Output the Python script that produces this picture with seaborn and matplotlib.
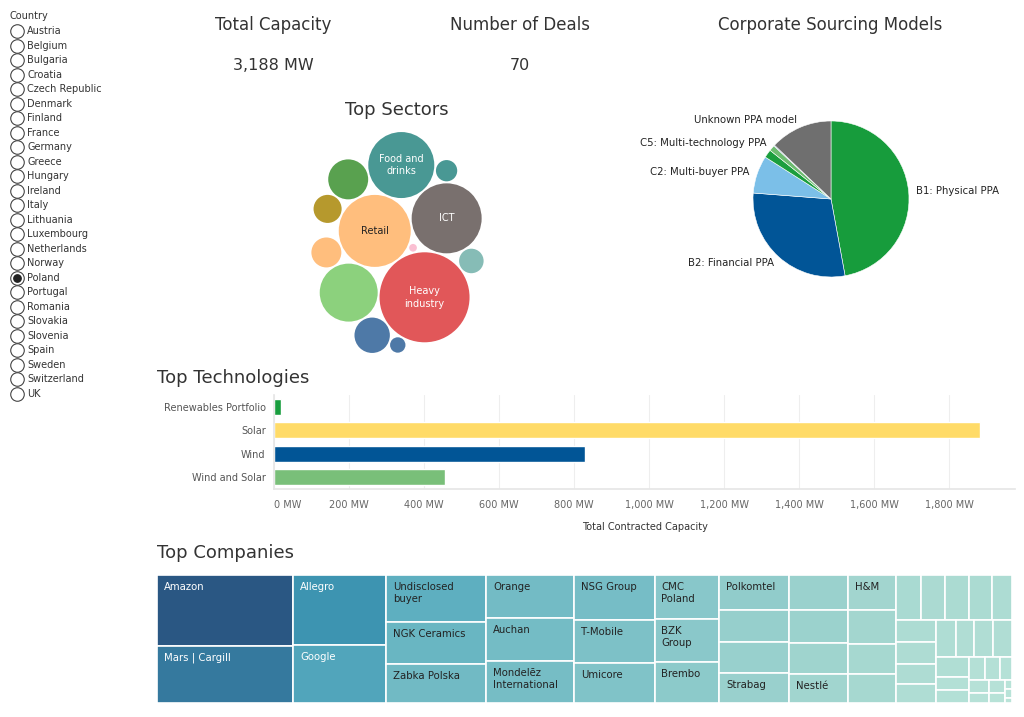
import numpy as np
import pandas as pd
import matplotlib
matplotlib.use("Agg")
import matplotlib.pyplot as plt
import seaborn as sns
from matplotlib.patches import Circle, Rectangle
from matplotlib.colors import LinearSegmentedColormap, Normalize, to_rgb

# ---- data ----
countries = ["Austria", "Belgium", "Bulgaria", "Croatia", "Czech Republic", "Denmark",
             "Finland", "France", "Germany", "Greece", "Hungary", "Ireland", "Italy",
             "Lithuania", "Luxembourg", "Netherlands", "Norway", "Poland", "Portugal",
             "Romania", "Slovakia", "Slovenia", "Spain", "Sweden", "Switzerland", "UK"]
selected_country = "Poland"

total_capacity_mw = 3188
number_of_deals = 70

sector_labels = ["Heavy\nindustry", "Retail", "ICT", "Food and\ndrinks", "", "", "", "", "", "", "", "", ""]
sector_values = [822, 526, 497, 442, 341, 162, 127, 91, 80, 61, 46, 24, 6]
sector_palette = ["#e15759", "#ffbe7d", "#79706e", "#499894", "#8cd17d", "#59a14f", "#4e79a7",
                  "#ffbe7d", "#b6992d", "#86bcb6", "#499894", "#4e79a7", "#fabfd2"]

model_labels = ["B1: Physical PPA", "B2: Financial PPA", "C2: Multi-buyer PPA", "",
                "C5: Multi-technology PPA", "", "Unknown PPA model"]
model_values = [1502, 928, 249, 54, 38, 6, 411]
model_palette = ["#179c3c", "#015597", "#7bbfe8", "#1b9e3e", "#6dbc70", "#4f81bd", "#6f6f6f"]

technologies = ["Renewables Portfolio", "Solar", "Wind", "Wind and Solar"]
technology_mw = [19, 1883, 829, 456]
technology_palette = ["#189d3e", "#ffdb68", "#015596", "#79bf79"]
capacity_ticks = [0, 200, 400, 600, 800, 1000, 1200, 1400, 1600, 1800]

company_labels = ["Amazon", "Mars | Cargill", "Allegro", "Google", "Undisclosed\nbuyer",
                  "NGK Ceramics", "Zabka Polska", "Orange", "Auchan", "Mondelēz\nInternational",
                  "NSG Group", "T-Mobile", "Umicore", "CMC\nPoland", "BZK\nGroup", "Brembo",
                  "Polkomtel", "", "", "Strabag", "", "", "", "Nestlé", "H&M", "", "", "",
                  "", "", "", "", "", "", "", "", "", "", "", "", "", "", "", "", "", "",
                  "", "", "", "", "", "", "", ""]
company_mw = [279, 224, 188, 155, 136, 121, 112, 110, 108, 106, 105, 98, 93, 82, 80, 77,
              70, 64, 62, 60, 59, 57, 52, 50, 48, 47, 41, 40,
              33, 31, 30, 30, 26, 26, 25, 24, 22, 21, 20, 20, 20, 19, 13, 12,
              11, 10.5, 8, 7, 5.8, 5.8, 4.9, 1.7, 1.7, 1.0]

W, H = 1024, 717
sns.set_theme(style="white")
plt.rcParams["font.family"] = ["DejaVu Sans"]
TXT = "#333333"

fig = plt.figure(figsize=(W / 100, H / 100), dpi=100)


def px_axes(x0, y0, x1, y1):
    return fig.add_axes([x0 / W, 1 - y1 / H, (x1 - x0) / W, (y1 - y0) / H])


# ---- country radio list ----
ax_r = px_axes(0, 1.96, 150, 415.8)
ax_r.set_xlim(0, 150)
ax_r.set_ylim(26.5, -2)
ax_r.axis("off")
idx = np.arange(len(countries))
ax_r.scatter(np.full(len(countries), 17), idx, s=95, facecolor="white",
             edgecolor="#444444", linewidth=0.8, zorder=2)
sel = countries.index(selected_country)
ax_r.scatter([17], [sel], s=28, color="#222222", zorder=3)
ax_r.text(10, -1, "Country", fontsize=7, color=TXT, va="center")
for i, c in enumerate(countries):
    ax_r.text(27, i, c, fontsize=7, color=TXT, va="center")

# ---- KPI headers ----
fig.text(273 / W, 1 - 25 / H, "Total Capacity", ha="center", va="center", fontsize=12, color=TXT)
fig.text(273 / W, 1 - 65 / H, f"{total_capacity_mw:,} MW", ha="center", va="center", fontsize=11.5, color=TXT)
fig.text(520 / W, 1 - 25 / H, "Number of Deals", ha="center", va="center", fontsize=12, color=TXT)
fig.text(520 / W, 1 - 65 / H, f"{number_of_deals}", ha="center", va="center", fontsize=11.5, color=TXT)
fig.text(830 / W, 1 - 25 / H, "Corporate Sourcing Models", ha="center", va="center", fontsize=12, color=TXT)
fig.text(397 / W, 1 - 110 / H, "Top Sectors", ha="center", va="center", fontsize=13, color=TXT)
fig.text(157 / W, 1 - 378 / H, "Top Technologies", ha="left", va="center", fontsize=13, color=TXT)
fig.text(157 / W, 1 - 553 / H, "Top Companies", ha="left", va="center", fontsize=13, color=TXT)


# ---- packed bubbles ----
def tangent_points(a, b, r, gap):
    (xa, ya, ra), (xb, yb, rb) = a, b
    da, db = ra + r + gap, rb + r + gap
    d = np.hypot(xb - xa, yb - ya)
    if d > da + db or d < abs(da - db) or d == 0:
        return []
    l = (da ** 2 - db ** 2 + d ** 2) / (2 * d)
    h = np.sqrt(max(da ** 2 - l ** 2, 0))
    mx, my = xa + l * (xb - xa) / d, ya + l * (yb - ya) / d
    return [(mx + h * (yb - ya) / d, my - h * (xb - xa) / d),
            (mx - h * (yb - ya) / d, my + h * (xb - xa) / d)]


def pack_circles(radii, gap, squeeze=1.3):
    order = np.argsort(radii)[::-1]
    placed, pos = [], np.zeros((len(radii), 2))
    for k in order:
        r = radii[k]
        if not placed:
            c = (0.0, 0.0)
        elif len(placed) == 1:
            x0, y0, r0 = placed[0]
            c = (x0 - (r0 + r + gap) * 0.6, y0 + (r0 + r + gap) * 0.8)
        else:
            arr = np.array(placed)
            w = arr[:, 2] ** 2
            gx, gy = (arr[:, 0] * w).sum() / w.sum(), (arr[:, 1] * w).sum() / w.sum()
            best = None
            for i in range(len(placed)):
                for j in range(i + 1, len(placed)):
                    for p in tangent_points(placed[i], placed[j], r, gap):
                        ok = all(np.hypot(p[0] - q[0], p[1] - q[1]) >= q[2] + r + gap - 1e-6 for q in placed)
                        if ok:
                            dd = np.hypot((p[0] - gx) * squeeze, p[1] - gy)
                            if best is None or dd < best[0]:
                                best = (dd, p)
            c = best[1]
        placed.append((c[0], c[1], r))
        pos[k] = c
    return pos


radii = np.sqrt(np.array(sector_values, float))
k_px = 45 / radii.max()
centres = pack_circles(radii, 2 / k_px)
ax_b = px_axes(290, 125, 505, 360)
ax_b.axis("off")
xmin, xmax = (centres[:, 0] - radii).min(), (centres[:, 0] + radii).max()
ymin, ymax = (centres[:, 1] - radii).min(), (centres[:, 1] + radii).max()
cx, cy = (xmin + xmax) / 2, (ymin + ymax) / 2
ax_b.set_xlim(cx - 215 / 2 / k_px, cx + 215 / 2 / k_px)
ax_b.set_ylim(cy - 235 / 2 / k_px, cy + 235 / 2 / k_px)
for (x, y), r, lab, col in zip(centres, radii, sector_labels, sector_palette):
    ax_b.add_patch(Circle((x, y), r, facecolor=col, edgecolor="none"))
    if lab:
        lum = np.dot(to_rgb(col), [0.299, 0.587, 0.114])
        ax_b.text(x, y, lab, ha="center", va="center", fontsize=7, linespacing=1.3,
                  color="#222222" if lum > 0.6 else "white")

# ---- pie ----
ax_p = px_axes(733.5, 101.5, 928.5, 296.5)
ax_p.pie(model_values, labels=model_labels, colors=model_palette, startangle=90,
         counterclock=False, labeldistance=1.1,
         wedgeprops=dict(linewidth=0.4, edgecolor="white"),
         textprops=dict(fontsize=7.3, color="#222222"))

# ---- bar chart ----
ax_t = px_axes(274, 395.3, 1015, 488.7)
tech_df = pd.DataFrame({"tech": technologies, "mw": technology_mw})
sns.barplot(data=tech_df, x="mw", y="tech", hue="tech", palette=technology_palette,
            legend=False, width=0.7, ax=ax_t, saturation=1)
ax_t.set_xlim(0, 1976)
ax_t.set_xticks(capacity_ticks)
ax_t.set_xticklabels([f"{v:,} MW" for v in capacity_ticks], fontsize=7, color="#666666")
ax_t.get_xticklabels()[0].set_horizontalalignment("left")
ax_t.tick_params(axis="y", labelsize=7, labelcolor="#555555", length=0, pad=6)
ax_t.tick_params(axis="x", length=0, pad=8)
ax_t.set_ylabel("")
ax_t.set_xlabel("Total Contracted Capacity", fontsize=7, color=TXT, labelpad=9)
ax_t.grid(axis="x", color="#eeeeee", linewidth=0.8)
ax_t.set_axisbelow(True)
for s in ["top", "right"]:
    ax_t.spines[s].set_visible(False)
ax_t.spines["left"].set_color("#e6e6e6")
ax_t.spines["bottom"].set_color("#e6e6e6")


# ---- treemap ----
# squarified layout: strips laid along the shorter side; a strip keeps growing
# while its cells stay close to a thickness:length ratio of `ratio`
def squarify(values, x, y, w, h, ratio=1.8):
    vals = np.asarray(values, float)
    areas = vals / vals.sum() * w * h
    rects = []
    cx_, cy_, cw, ch = 0.0, 0.0, float(w), float(h)

    def worst(row, side):
        t = sum(row) / side
        return max(max(t / (ratio * a / t), ratio * a / t / t) for a in row)

    i, n = 0, len(areas)
    while i < n:
        side = min(cw, ch)
        row = [areas[i]]
        j = i + 1
        while j < n and worst(row + [areas[j]], side) <= worst(row, side):
            row.append(areas[j])
            j += 1
        t = sum(row) / side
        if cw >= ch:
            yy = cy_
            for a in row:
                rects.append((cx_, yy, t, a / t))
                yy += a / t
            cx_ += t
            cw -= t
        else:
            xx = cx_
            for a in row:
                rects.append((xx, cy_, a / t, t))
                xx += a / t
            cy_ += t
            ch -= t
        i = j
    return [(x + rx, y + ry, rw, rh) for rx, ry, rw, rh in rects]


comp = pd.DataFrame({"label": company_labels, "mw": company_mw}).sort_values("mw", ascending=False, kind="stable")
TW, TH = 855, 128
ax_c = px_axes(157, 575, 157 + TW, 575 + TH)
ax_c.set_xlim(0, TW)
ax_c.set_ylim(TH, 0)
ax_c.axis("off")
cmap = LinearSegmentedColormap.from_list(
    "blueteal", ["#b9e3d8", "#a3d6cf", "#80c3c8", "#5badbf", "#3e96b2", "#33739a", "#2a5783"])
norm = Normalize(0, comp["mw"].max())
for (x, y, w, h), lab, v in zip(squarify(comp["mw"], 0, 0, TW, TH), comp["label"], comp["mw"]):
    ax_c.add_patch(Rectangle((x, y), w, h, facecolor=cmap(norm(v)), edgecolor="white", linewidth=1.2))
    if lab:
        ax_c.annotate(lab, (x, y), xytext=(5, -5), textcoords="offset points", ha="left", va="top",
                      fontsize=7.3, linespacing=1.3, color="white" if v > 150 else "#222222")

fig.savefig("out.png", dpi=100)
